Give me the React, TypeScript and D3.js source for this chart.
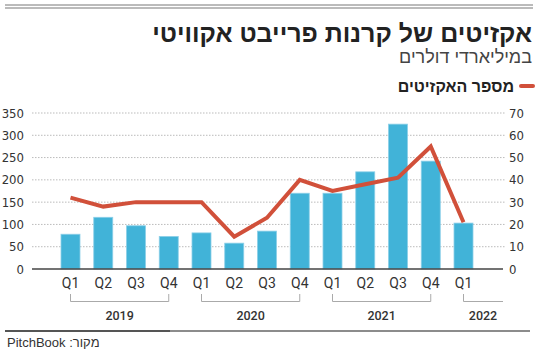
import React from "react";
import * as d3 from "d3";

const categories = ["Q1","Q2","Q3","Q4","Q1","Q2","Q3","Q4","Q1","Q2","Q3","Q4","Q1"];
const valueBillions = [78,116,97,73,81,58,85,170,170,218,325,242,103];
const exitCount = [32,28,30,30,30,14.5,23,40,35,38,41,55,21];
const leftTicks = [0,50,100,150,200,250,300,350];
const rightTicks = [0,10,20,30,40,50,60,70];
const years = [
  { label: "2019", from: 0, to: 3 },
  { label: "2020", from: 4, to: 7 },
  { label: "2021", from: 8, to: 11 },
  { label: "2022", from: 12, to: 12 },
];

const W = 550, H = 355;
const plotLeft = 32, plotRight = 505;
const y0 = 269, y1 = 113;
const barW = 19;

export default function App() {
  const x = d3.scalePoint<number>().domain(d3.range(categories.length)).range([70.5, 463.5]);
  const yL = d3.scaleLinear().domain([0, 350]).range([y0, y1]);
  const yR = d3.scaleLinear().domain([0, 70]).range([y0, y1]);
  const line = d3.line<number>().x((_, i) => x(i)!).y((d) => yR(d));
  const narrow = "'Liberation Sans Narrow', 'DejaVu Sans Condensed', Roboto, sans-serif";
  const heb = "'Liberation Sans', 'DejaVu Sans', sans-serif";
  return (
    <svg width={W} height={H} style={{ position: "absolute", left: 0, top: 0, background: "#fff" }}>
      <line x1={5} x2={533} y1={5} y2={5} stroke="#777" strokeWidth={1} />
      <line x1={5} x2={533} y1={8} y2={8} stroke="#777" strokeWidth={1} />
      <text x={532} y={42} textAnchor="end" fontFamily={heb} fontWeight={900} fontSize={25} fill="#222">אקזיטים של קרנות פרייבט אקוויטי</text>
      <text x={532} y={63} textAnchor="end" fontFamily={heb} fontWeight={300} fontSize={18} fill="#444">במיליארדי דולרים</text>
      <line x1={521} x2={533} y1={86} y2={86} stroke="#d1503a" strokeWidth={4} strokeLinecap="round" />
      <text x={514} y={91.5} textAnchor="end" fontFamily={heb} fontWeight={700} fontSize={16} fill="#222">מספר האקזיטים</text>

      {leftTicks.filter((t) => t > 0).map((t) => (
        <line key={t} x1={plotLeft} x2={plotRight} y1={yL(t)} y2={yL(t)} stroke="#bbb" strokeWidth={1} strokeDasharray="1.5,1.5" />
      ))}
      {leftTicks.map((t) => (
        <text key={t} x={24} y={yL(t) + 4.5} textAnchor="end" fontFamily={narrow} fontSize={13} fill="#333">{t}</text>
      ))}
      {rightTicks.map((t) => (
        <text key={t} x={509} y={yR(t) + 4.5} textAnchor="start" fontFamily={narrow} fontSize={13} fill="#333">{t}</text>
      ))}

      {valueBillions.map((v, i) => (
        <rect key={i} x={x(i)! - barW / 2} y={yL(v)} width={barW} height={y0 - yL(v)} fill="#41b3d8" stroke="#8ccfe8" strokeWidth={0.8} />
      ))}
      <line x1={plotLeft} x2={503} y1={y0} y2={y0} stroke="#444" strokeWidth={1.5} />
      <path d={line(exitCount)!} fill="none" stroke="#d1503a" strokeWidth={4} strokeLinejoin="miter" />

      {categories.map((c, i) => (
        <text key={i} x={x(i)!} y={288} textAnchor="middle" fontFamily="Roboto, sans-serif" fontSize={14} fill="#333">{c}</text>
      ))}
      {years.map((yr) => {
        const a = x(yr.from)!;
        const b = yr.from === yr.to ? 503 : x(yr.to)!;
        const cx = yr.from === yr.to ? 483 : (a + b) / 2;
        return (
          <g key={yr.label}>
            <path d={`M${a},294V301.5H${b}${yr.from === yr.to ? "" : "V294"}`} fill="none" stroke="#aaa" strokeWidth={1} />
            <text x={cx} y={319.5} textAnchor="middle" fontFamily="Roboto, sans-serif" fontWeight={500} fontSize={12.5} fill="#333">{yr.label}</text>
          </g>
        );
      })}
      <line x1={5} x2={170} y1={331} y2={331} stroke="#555" strokeWidth={2} />
      <line x1={170} x2={530} y1={331} y2={331} stroke="#666" strokeWidth={1.3} />
      <text x={7} y={347} direction="rtl" textAnchor="end" fontFamily={heb} fontSize={13} fill="#333">מקור: PitchBook</text>
    </svg>
  );
}
